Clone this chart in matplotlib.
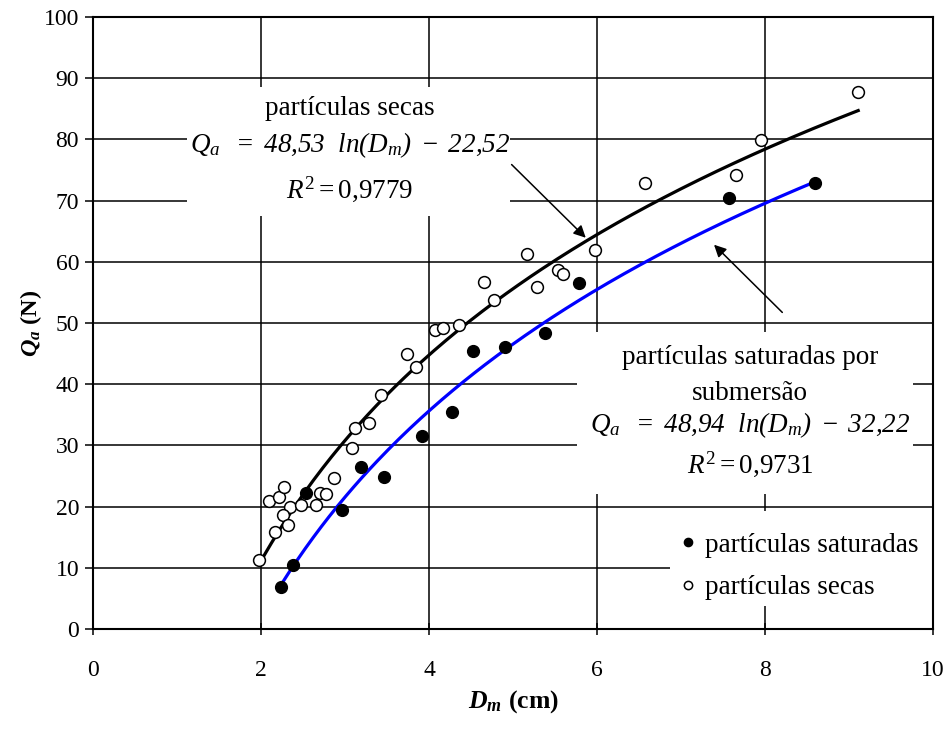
"""
Carga de arranque Q_a em funcao do diametro medio D_m das particulas.

Particulas secas e saturadas por submersao, com as curvas de tendencia
logaritmicas ajustadas (estilo de grafico do Excel).
"""

import numpy as np
import matplotlib
matplotlib.use("Agg")
import matplotlib.pyplot as plt
from matplotlib.patches import Rectangle


# ===========================================================================
# Data
# ===========================================================================

secas_dm = [1.98, 2.17, 2.10, 2.22, 2.27, 2.34, 2.26, 2.32, 2.48, 2.65,
            2.70, 2.77, 2.87, 3.08, 3.12, 3.29, 3.43, 3.74, 3.84, 4.07,
            4.17, 4.36, 4.65, 4.77, 5.17, 5.29, 5.53, 5.59, 5.98, 6.57,
            7.66, 7.95, 9.11]
secas_qa = [11.2, 15.9, 20.9, 21.5, 23.2, 19.9, 18.6, 17.0, 20.2, 20.2,
            22.2, 22.1, 24.7, 29.6, 32.9, 33.6, 38.2, 45.0, 42.8, 48.9,
            49.1, 49.6, 56.7, 53.8, 61.3, 55.8, 58.7, 58.0, 62.0, 72.8,
            74.1, 79.9, 87.7]

saturadas_dm = [2.24, 2.38, 2.53, 2.96, 3.19, 3.46, 3.92, 4.27, 4.52,
                4.90, 5.38, 5.79, 7.57, 8.59]
saturadas_qa = [6.8, 10.5, 22.2, 19.5, 26.4, 24.8, 31.6, 35.5, 45.4,
                46.0, 48.3, 56.5, 70.4, 72.8]

# Trend lines printed on the chart: Q_a = a ln(D_m) + b
secas_fit = (48.53, -22.52)
saturadas_fit = (48.94, -32.22)

x_ticks = [0, 2, 4, 6, 8, 10]
y_ticks = [0, 10, 20, 30, 40, 50, 60, 70, 80, 90, 100]


# ===========================================================================
# Style
# ===========================================================================

plt.rcParams["font.family"] = ["Liberation Serif", "DejaVu Serif"]
plt.rcParams["mathtext.fontset"] = "custom"
plt.rcParams["mathtext.rm"] = "Liberation Serif"
plt.rcParams["mathtext.it"] = "Liberation Serif:italic"
# sf is used for the fully italic equations (digits included)
plt.rcParams["mathtext.sf"] = "Liberation Serif:italic"
plt.rcParams["mathtext.bf"] = "Liberation Serif:bold:italic"

TICK_FONT = 17
TEXT_FONT = 19.5


def log_curve(x_vals, coef):
    """Evaluate the logarithmic trend line over the span of the data."""
    xs = np.linspace(min(x_vals), max(x_vals), 200)
    return xs, coef[0] * np.log(xs) + coef[1]


fig = plt.figure(figsize=(9.52, 7.36), dpi=100)
ax = fig.add_axes([0.0977, 0.1454, 0.8823, 0.8316])

# --- Grid (drawn under everything) ---
ax.set_axisbelow(True)
ax.grid(True, color="black", linewidth=1.1)

# --- White boxes behind the annotations (they hide the grid) ---
for x0, y0, w, h in [(1.12, 67.4, 3.84, 21.2),
                     (5.76, 22.0, 4.00, 26.6),
                     (6.87, 3.75, 3.13, 15.45)]:
    ax.add_patch(Rectangle((x0, y0), w, h, facecolor="white",
                           edgecolor="none", zorder=1))

# --- Trend lines ---
xs, ys = log_curve(secas_dm, secas_fit)
ax.plot(xs, ys, color="black", linewidth=2.3, zorder=3)
xs, ys = log_curve(saturadas_dm, saturadas_fit)
ax.plot(xs, ys, color="#0000ff", linewidth=2.3, zorder=3)

# --- Points ---
ax.plot(saturadas_dm, saturadas_qa, "o", color="black", markersize=8.5,
        zorder=4, label="partículas saturadas")
ax.plot(secas_dm, secas_qa, "o", markerfacecolor="white",
        markeredgecolor="black", markeredgewidth=1.1, markersize=8.5,
        zorder=4, label="partículas secas")

# --- Axes ---
ax.set_xlim(0, 10)
ax.set_ylim(0, 100)
ax.set_xticks(x_ticks)
ax.set_yticks(y_ticks)
ax.tick_params(labelsize=TICK_FONT, width=1.1)
ax.tick_params(axis="x", direction="inout", length=9, pad=18)
ax.tick_params(axis="y", direction="out", length=6, pad=4)
for spine in ax.spines.values():
    spine.set_linewidth(1.5)

ax.set_xlabel(r"$\mathbf{D_m}$ (cm)", fontsize=TEXT_FONT - 1,
              fontweight="bold", labelpad=5)
ax.set_ylabel(r"$\mathbf{Q_a}$ (N)", fontsize=TEXT_FONT - 2,
              fontweight="bold", labelpad=0)

# --- Annotations ---
ax.text(3.06, 85.0, "partículas secas", ha="center", va="center",
        fontsize=TEXT_FONT, zorder=5)
ax.text(3.06, 79.1,
        r"$\mathsf{Q_a\ \;=\;48{,}53\ \ ln(D_m)\;-\;22{,}52}$",
        ha="center", va="center", fontsize=TEXT_FONT, zorder=5)
ax.text(3.06, 71.9, r"$R^2 = $0,9779", ha="center", va="center",
        fontsize=TEXT_FONT, zorder=5)

ax.text(7.82, 44.4, "partículas saturadas por", ha="center", va="center",
        fontsize=TEXT_FONT, zorder=5)
ax.text(7.82, 38.5, "submersão", ha="center", va="center",
        fontsize=TEXT_FONT, zorder=5)
ax.text(7.82, 33.3,
        r"$\mathsf{Q_a\ \;=\;48{,}94\ \ ln(D_m)\;-\;32{,}22}$",
        ha="center", va="center", fontsize=TEXT_FONT, zorder=5)
ax.text(7.82, 26.9, r"$R^2 = $0,9731", ha="center", va="center",
        fontsize=TEXT_FONT, zorder=5)

arrow = dict(arrowstyle="-|>", color="black", lw=1.1, mutation_scale=18)
ax.annotate("", xy=(5.89, 63.6), xytext=(4.96, 76.2), arrowprops=arrow,
            zorder=5)
ax.annotate("", xy=(7.37, 63.1), xytext=(8.23, 51.4), arrowprops=arrow,
            zorder=5)

# --- Legend ---
ax.legend(loc="lower right", bbox_to_anchor=(1.012, 0.007), frameon=False,
          fontsize=TEXT_FONT, markerscale=0.7, handlelength=0.6,
          handletextpad=0.35, labelspacing=0.65)

fig.savefig("out.png", dpi=100)
